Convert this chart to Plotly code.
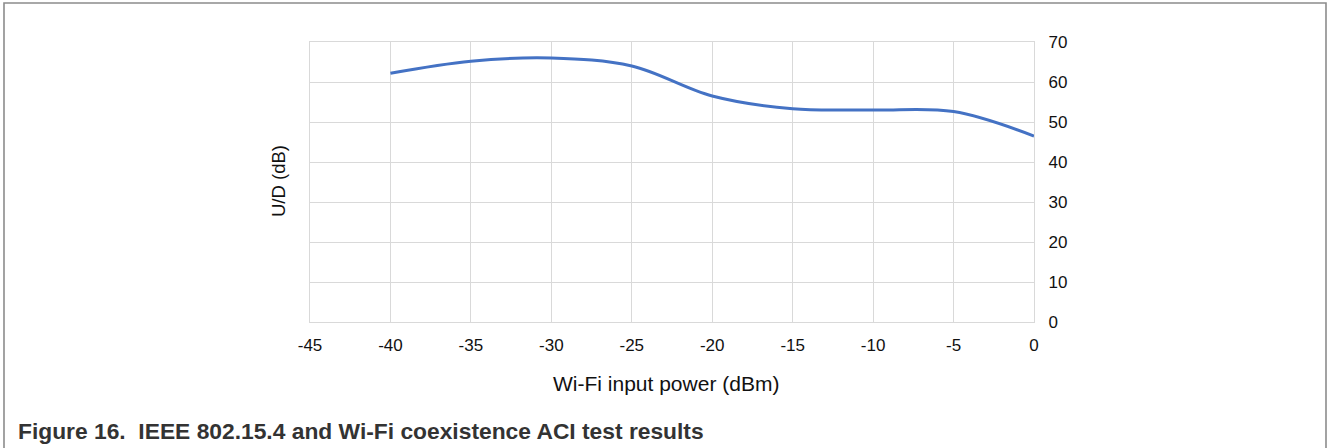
import plotly.graph_objects as go

# Data
wifi_power = [-40, -35, -30, -25, -20, -15, -10, -5, 0]
ud_db = [62.2, 65.2, 66.0, 64.0, 56.5, 53.3, 53.0, 52.6, 46.5]
x_ticks = [-45, -40, -35, -30, -25, -20, -15, -10, -5, 0]
y_ticks = [0, 10, 20, 30, 40, 50, 60, 70]

x_title = "Wi-Fi input power (dBm)"
y_title = "U/D (dB)"
caption = "Figure 16.\u00a0\u00a0IEEE 802.15.4 and Wi-Fi coexistence ACI test results"

W, H = 1328, 448
L, R, T, B = 310, 1034, 42, 322  # plot area in pixels


def px(x):
    return (x - L) / (R - L)


def py(y):
    return (B - y) / (B - T)


fig = go.Figure()
fig.add_trace(go.Scatter(
    x=wifi_power, y=ud_db, mode="lines",
    line=dict(color="#4472C4", width=3, shape="spline", smoothing=1.0),
    showlegend=False, hoverinfo="x+y",
))

font_family = "Liberation Sans, Arial, sans-serif"
grid = "#d9d9d9"
txt = "#111111"

fig.update_layout(
    width=W, height=H,
    margin=dict(l=L, r=W - R, t=T, b=H - B, pad=0),
    paper_bgcolor="white", plot_bgcolor="white",
    font=dict(family=font_family, color=txt, size=17),
    xaxis=dict(
        range=[-45, 0], tickmode="array", tickvals=x_ticks,
        ticktext=[str(v) for v in x_ticks],
        showgrid=True, gridcolor=grid, gridwidth=1.3,
        showline=True, linecolor=grid, linewidth=1.3, mirror=True,
        zeroline=False, ticks="", ticklabelstandoff=7,
        tickfont=dict(size=17, color=txt),
    ),
    yaxis=dict(
        range=[0, 70], side="right", tickmode="array", tickvals=y_ticks,
        ticktext=[str(v) for v in y_ticks],
        showgrid=True, gridcolor=grid, gridwidth=1.3,
        showline=True, linecolor=grid, linewidth=1.3, mirror=True,
        zeroline=False, ticks="", ticklabelstandoff=10,
        tickfont=dict(size=17, color=txt),
    ),
    shapes=[dict(
        type="rect", xref="paper", yref="paper",
        x0=px(4), x1=px(1326), y0=py(470), y1=py(3),
        line=dict(color="#8c8c8c", width=1.6), fillcolor="rgba(0,0,0,0)",
        layer="below",
    )],
    annotations=[
        dict(text=y_title, xref="paper", yref="paper", x=px(278), y=py(181),
             xanchor="center", yanchor="middle", textangle=-90, showarrow=False,
             font=dict(size=18.5, family=font_family, color=txt)),
        dict(text=x_title, xref="paper", yref="paper", x=px(666), y=py(383),
             xanchor="center", yanchor="middle", showarrow=False,
             font=dict(size=21, family=font_family, color=txt)),
        dict(text="<b>" + caption + "</b>", xref="paper", yref="paper",
             x=px(16), y=py(431), xanchor="left", yanchor="middle",
             showarrow=False,
             font=dict(size=22.8, family=font_family, color="#333333")),
    ],
)

fig.write_html("out.html", config={"displayModeBar": False},
               post_script="document.body.style.margin='0';document.body.style.padding='0';")
